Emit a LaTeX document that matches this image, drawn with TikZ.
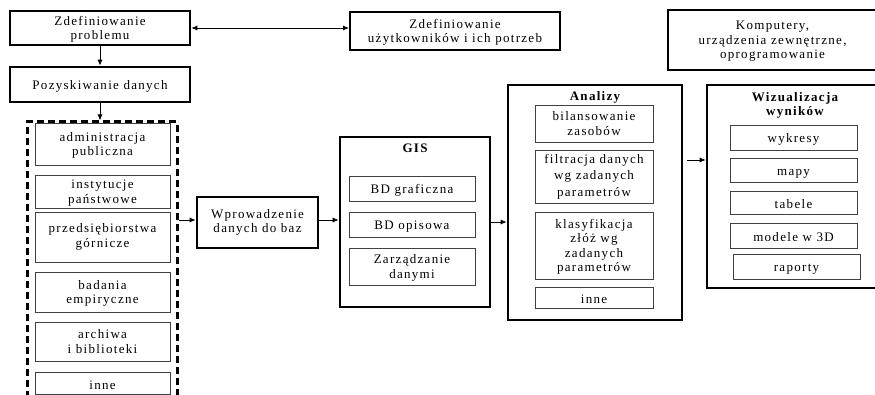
\documentclass[tikz,border=0pt]{standalone}
\usepackage{fontspec}
\setmainfont{Liberation Serif}[LetterSpace=10]
\usetikzlibrary{arrows.meta}
\begin{document}
\begin{tikzpicture}[x=1pt,y=-1pt,
  txt/.style={font=\fontsize{13}{14.5}\selectfont, align=center, inner sep=0pt,
    execute at begin node={\rule{0pt}{13pt}}},
  ml/.style={text depth=-2pt},
  bigbox/.style={txt, draw, line width=2.6pt, minimum width=#1},
  inbox/.style={txt, draw=black!75, line width=0.9pt, minimum width=#1},
  ttl/.style={font=\fontsize{13}{14.5}\selectfont\bfseries, align=center, inner sep=0pt},
  arr/.style={line width=0.8pt, -{Latex[length=6pt,width=5pt]}},
  darr/.style={line width=0.8pt, {Latex[length=6pt,width=5pt]}-{Latex[length=6pt,width=5pt]}},
  dashbox/.style={draw, line width=3pt, dash pattern=on 7pt off 4pt}
]
\useasboundingbox (0,0) rectangle (875,395);
\clip (0,0) rectangle (875,395);

% top row
\node[bigbox=180, minimum height=34, ml] (prob) at (100,28) {Zdefiniowanie\\problemu};
\node[bigbox=210, minimum height=38, line width=2pt, ml] (users) at (455,31) {Zdefiniowanie\\użytkowników i ich potrzeb};
\node[bigbox=209, minimum height=60, ml] (komp) at (772.5,40) {Komputery,\\urządzenia zewnętrzne,\\oprogramowanie};
\node[bigbox=180, minimum height=35] (pozysk) at (100,84.5) {Pozyskiwanie danych};

% sources
\node[dashbox, minimum width=150, minimum height=300, inner sep=0pt] (src) at (102,272) {};
\node[inbox=135, minimum height=42, ml] (adm) at (102.5,144) {administracja\\publiczna};
\node[inbox=135, minimum height=33, ml] (inst) at (102.5,191.5) {instytucje\\państwowe};
\node[inbox=135, minimum height=50] (przed) at (102.5,237) {przedsiębiorstwa\\górnicze};
\node[inbox=135, minimum height=40, ml] (bad) at (102.5,292) {badania\\empiryczne};
\node[inbox=135, minimum height=39] (arch) at (102.5,341.5) {archiwa\\i biblioteki};
\node[inbox=135, minimum height=22] (inneA) at (102.5,383) {inne};

% input
\node[bigbox=121, minimum height=51] (wprow) at (257.5,222.5) {Wprowadzenie\\danych do baz};

% GIS
\node[bigbox=150, minimum height=170] (gis) at (415,222) {};
\node[ttl] (gist) at (415,148) {GIS};
\node[inbox=126, minimum height=25] (bdg) at (412,188.5) {BD graficzna};
\node[inbox=126, minimum height=25] (bdo) at (412,224.5) {BD opisowa};
\node[inbox=126, minimum height=37, ml] (zarz) at (412,266.5) {Zarządzanie\\danymi};

% Analizy
\node[bigbox=174, minimum height=235] (anal) at (595,202.5) {};
\node[ttl] (analt) at (595,97) {Analizy};
\node[inbox=118, minimum height=37, ml] (bil) at (594,123.5) {bilansowanie\\zasobów};
\node[inbox=118, minimum height=53, font=\fontsize{13}{16.5}\selectfont] (filt) at (594,176.5) {filtracja danych\\wg zadanych\\parametrów};
\node[inbox=118, minimum height=67, ml] (klas) at (594,245.5) {klasyfikacja\\złóż wg\\zadanych\\parametrów};
\node[inbox=118, minimum height=21] (inneB) at (594,297.5) {inne};

% Wizualizacja
\node[bigbox=170, minimum height=203] (wiz) at (792,186.5) {};
\node[ttl] (wizt) at (795,105.5) {Wizualizacja\\wyników};
\node[inbox=127, minimum height=25] (wyk) at (793.5,137.5) {wykresy};
\node[inbox=127, minimum height=24] (mapy) at (793.5,170) {mapy};
\node[inbox=127, minimum height=23] (tab) at (793.5,202.5) {tabele};
\node[inbox=127, minimum height=25] (mod) at (793.5,235.5) {modele w 3D};
\node[inbox=127, minimum height=25] (rap) at (796.5,266.5) {raporty};

% connectors
\draw[darr] (prob.east) -- (prob.east -| users.west);
\draw[arr] (prob.south) -- (pozysk.north);
\draw[arr] (pozysk.south) -- (pozysk.south |- src.north);
\coordinate (lvlA) at (0,220);
\draw[arr] (src.east |- lvlA) -- (wprow.west |- lvlA);
\draw[arr] (wprow.east |- lvlA) -- (gis.west |- lvlA);
\draw[arr] (gis.east) -- (gis.east -| anal.west);
\coordinate (lvlB) at (0,160);
\draw[arr, shorten <=4pt] (anal.east |- lvlB) -- (wiz.west |- lvlB);
\end{tikzpicture}
\end{document}
